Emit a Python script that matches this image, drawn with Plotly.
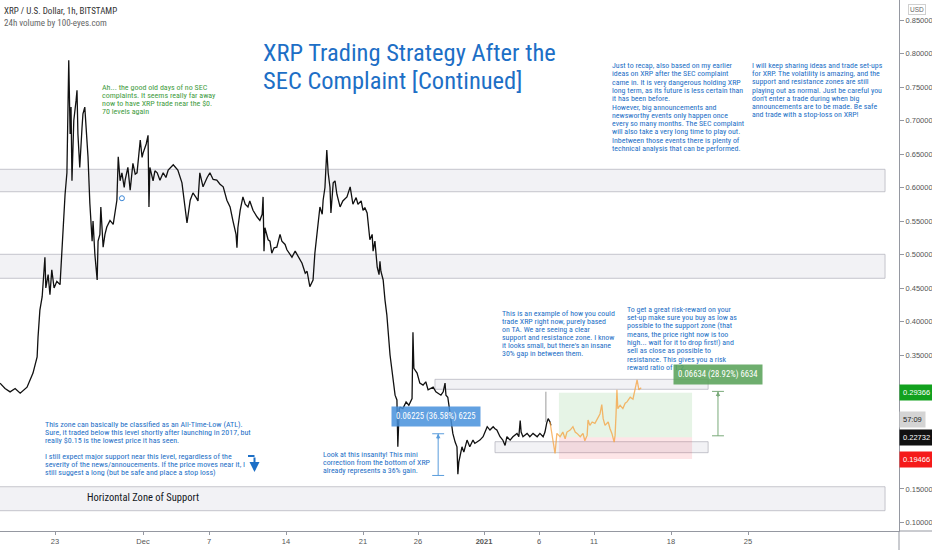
import plotly.graph_objects as go
import pandas as pd

# ---------------- data ----------------
price_time = [
    "2020-11-18 00:00", "2020-11-18 11:00", "2020-11-18 22:00", "2020-11-19 09:00", "2020-11-19 20:00",
    "2020-11-20 11:00", "2020-11-21 00:00", "2020-11-21 09:00", "2020-11-21 11:00", "2020-11-21 15:00",
    "2020-11-21 20:00", "2020-11-22 00:00", "2020-11-22 02:00", "2020-11-22 04:00", "2020-11-22 09:00",
    "2020-11-22 13:00", "2020-11-22 17:00", "2020-11-22 22:00", "2020-11-23 04:00", "2020-11-23 11:00",
    "2020-11-23 15:00", "2020-11-23 18:00", "2020-11-23 22:00", "2020-11-24 02:00", "2020-11-24 04:00",
    "2020-11-24 06:00", "2020-11-24 09:00", "2020-11-24 11:00", "2020-11-24 13:00", "2020-11-24 17:00",
    "2020-11-24 22:00", "2020-11-25 00:00", "2020-11-25 02:00", "2020-11-25 06:00", "2020-11-25 11:00",
    "2020-11-25 13:00", "2020-11-25 17:00", "2020-11-25 20:00", "2020-11-26 00:00", "2020-11-26 04:00",
    "2020-11-26 09:00", "2020-11-26 11:00", "2020-11-26 15:00", "2020-11-26 20:00", "2020-11-26 22:00",
    "2020-11-27 02:00", "2020-11-27 04:00", "2020-11-27 09:00", "2020-11-27 13:00", "2020-11-27 17:00",
    "2020-11-28 00:00", "2020-11-28 07:00", "2020-11-28 11:00", "2020-11-28 15:00", "2020-11-28 18:00",
    "2020-11-28 22:00", "2020-11-29 02:00", "2020-11-29 07:00", "2020-11-29 09:00", "2020-11-29 15:00",
    "2020-11-29 20:00", "2020-11-30 02:00", "2020-11-30 07:00", "2020-11-30 11:00", "2020-11-30 18:00",
    "2020-11-30 22:00", "2020-12-01 00:00", "2020-12-01 07:00", "2020-12-01 11:00", "2020-12-01 13:00",
    "2020-12-01 15:00", "2020-12-01 22:00", "2020-12-02 02:00", "2020-12-02 07:00", "2020-12-02 13:00",
    "2020-12-02 20:00", "2020-12-03 02:00", "2020-12-03 07:00", "2020-12-03 18:00", "2020-12-04 04:00",
    "2020-12-04 13:00", "2020-12-04 20:00", "2020-12-05 00:00", "2020-12-05 07:00", "2020-12-05 13:00",
    "2020-12-05 20:00", "2020-12-06 00:00", "2020-12-06 04:00", "2020-12-06 11:00", "2020-12-06 20:00",
    "2020-12-07 02:00", "2020-12-07 09:00", "2020-12-07 17:00", "2020-12-08 00:00", "2020-12-08 07:00",
    "2020-12-08 15:00", "2020-12-08 22:00", "2020-12-09 04:00", "2020-12-09 11:00", "2020-12-09 13:00",
    "2020-12-09 15:00", "2020-12-09 20:00", "2020-12-10 02:00", "2020-12-10 07:00", "2020-12-10 13:00",
    "2020-12-10 17:00", "2020-12-11 00:00", "2020-12-11 09:00", "2020-12-11 15:00", "2020-12-11 20:00",
    "2020-12-11 22:00", "2020-12-12 00:00", "2020-12-12 02:00", "2020-12-12 09:00", "2020-12-12 13:00",
    "2020-12-12 17:00", "2020-12-12 22:00", "2020-12-13 04:00", "2020-12-13 11:00", "2020-12-13 15:00",
    "2020-12-13 22:00", "2020-12-14 02:00", "2020-12-14 09:00", "2020-12-14 13:00", "2020-12-14 20:00",
    "2020-12-15 00:00", "2020-12-15 07:00", "2020-12-15 11:00", "2020-12-15 18:00", "2020-12-15 22:00",
    "2020-12-16 04:00", "2020-12-16 09:00", "2020-12-16 11:00", "2020-12-16 15:00", "2020-12-16 20:00",
    "2020-12-17 02:00", "2020-12-17 07:00", "2020-12-17 09:00", "2020-12-17 13:00", "2020-12-17 17:00",
    "2020-12-17 20:00", "2020-12-18 00:00", "2020-12-18 02:00", "2020-12-18 07:00", "2020-12-18 11:00",
    "2020-12-18 15:00", "2020-12-18 22:00", "2020-12-19 04:00", "2020-12-19 13:00", "2020-12-19 20:00",
    "2020-12-20 02:00", "2020-12-20 09:00", "2020-12-20 13:00", "2020-12-20 20:00", "2020-12-21 00:00",
    "2020-12-21 04:00", "2020-12-21 09:00", "2020-12-21 15:00", "2020-12-21 20:00", "2020-12-21 22:00",
    "2020-12-22 02:00", "2020-12-22 07:00", "2020-12-22 11:00", "2020-12-22 13:00", "2020-12-22 15:00",
    "2020-12-22 20:00", "2020-12-23 00:00", "2020-12-23 04:00", "2020-12-23 11:00", "2020-12-23 17:00",
    "2020-12-23 22:00", "2020-12-24 02:00", "2020-12-24 04:00", "2020-12-24 07:00", "2020-12-24 09:00",
    "2020-12-24 15:00", "2020-12-24 22:00", "2020-12-25 04:00", "2020-12-25 11:00", "2020-12-25 13:00",
    "2020-12-25 15:00", "2020-12-25 22:00", "2020-12-26 04:00", "2020-12-26 11:00", "2020-12-26 17:00",
    "2020-12-26 22:00", "2020-12-27 04:00", "2020-12-27 09:00", "2020-12-27 15:00", "2020-12-27 20:00",
    "2020-12-28 02:00", "2020-12-28 07:00", "2020-12-28 11:00", "2020-12-28 13:00", "2020-12-28 17:00",
    "2020-12-28 22:00", "2020-12-29 02:00", "2020-12-29 04:00", "2020-12-29 09:00", "2020-12-29 13:00",
    "2020-12-29 15:00", "2020-12-29 17:00", "2020-12-29 20:00", "2020-12-30 00:00", "2020-12-30 04:00",
    "2020-12-30 11:00", "2020-12-30 17:00", "2020-12-31 00:00", "2020-12-31 04:00", "2020-12-31 09:00",
    "2020-12-31 15:00", "2020-12-31 22:00", "2021-01-01 02:00", "2021-01-01 07:00", "2021-01-01 13:00",
    "2021-01-01 20:00", "2021-01-02 00:00", "2021-01-02 04:00", "2021-01-02 11:00", "2021-01-02 17:00",
    "2021-01-02 22:00", "2021-01-03 02:00", "2021-01-03 09:00", "2021-01-03 15:00", "2021-01-04 00:00",
    "2021-01-04 04:00", "2021-01-04 07:00", "2021-01-04 09:00", "2021-01-04 13:00", "2021-01-04 22:00",
    "2021-01-05 04:00", "2021-01-05 11:00", "2021-01-05 20:00", "2021-01-06 02:00", "2021-01-06 09:00",
    "2021-01-06 13:00", "2021-01-06 17:00", "2021-01-06 20:00", "2021-01-07 00:00", "2021-01-07 02:00",
]
price_value = [
    0.308, 0.300, 0.295, 0.300, 0.293,
    0.302, 0.323, 0.347, 0.377, 0.417,
    0.437, 0.480, 0.496, 0.450, 0.470,
    0.440, 0.477, 0.450, 0.460, 0.455,
    0.511, 0.551, 0.590, 0.622, 0.750,
    0.790, 0.680, 0.720, 0.610, 0.700,
    0.730, 0.745, 0.680, 0.630, 0.690,
    0.710, 0.720, 0.690, 0.646, 0.577,
    0.520, 0.550, 0.500, 0.462, 0.520,
    0.530, 0.571, 0.511, 0.530, 0.541,
    0.551, 0.545, 0.562, 0.581, 0.646,
    0.610, 0.622, 0.600, 0.611, 0.630,
    0.596, 0.636, 0.620, 0.622, 0.671,
    0.645, 0.651, 0.665, 0.678, 0.571,
    0.630, 0.610, 0.625, 0.622, 0.611,
    0.622, 0.615, 0.626, 0.634, 0.626,
    0.607, 0.571, 0.547, 0.581, 0.592,
    0.585, 0.580, 0.622, 0.601, 0.615,
    0.622, 0.612, 0.611, 0.605, 0.601,
    0.581, 0.571, 0.551, 0.530, 0.510,
    0.540, 0.566, 0.586, 0.575, 0.571,
    0.580, 0.566, 0.556, 0.551, 0.560,
    0.586, 0.505, 0.540, 0.522, 0.520,
    0.502, 0.510, 0.511, 0.530, 0.520,
    0.515, 0.507, 0.500, 0.496, 0.505,
    0.500, 0.490, 0.487, 0.472, 0.475,
    0.452, 0.460, 0.462, 0.502, 0.532,
    0.571, 0.560, 0.581, 0.600, 0.656,
    0.622, 0.600, 0.562, 0.607, 0.610,
    0.590, 0.571, 0.580, 0.586, 0.601,
    0.575, 0.585, 0.575, 0.580, 0.566,
    0.570, 0.562, 0.522, 0.530, 0.505,
    0.520, 0.481, 0.470, 0.490, 0.475,
    0.462, 0.432, 0.410, 0.350, 0.320,
    0.290, 0.283, 0.213, 0.270, 0.272,
    0.270, 0.280, 0.275, 0.285, 0.384,
    0.330, 0.323, 0.308, 0.305, 0.310,
    0.298, 0.300, 0.302, 0.295, 0.293,
    0.290, 0.295, 0.308, 0.290, 0.287,
    0.263, 0.245, 0.233, 0.220, 0.213,
    0.172, 0.190, 0.200, 0.213, 0.205,
    0.223, 0.213, 0.223, 0.218, 0.220,
    0.223, 0.228, 0.235, 0.243, 0.238,
    0.243, 0.240, 0.238, 0.228, 0.223,
    0.215, 0.228, 0.223, 0.228, 0.233,
    0.228, 0.252, 0.235, 0.228, 0.233,
    0.228, 0.233, 0.228, 0.233, 0.228,
    0.235, 0.249, 0.255, 0.250, 0.245,
]

# projected (bars pattern) path drawn in orange
proj_time = [
    "2021-01-07 00:00", "2021-01-07 04:00", "2021-01-07 09:00", "2021-01-07 11:00", "2021-01-07 15:00",
    "2021-01-07 22:00", "2021-01-08 04:00", "2021-01-08 09:00", "2021-01-08 13:00", "2021-01-08 20:00",
    "2021-01-09 02:00", "2021-01-09 07:00", "2021-01-09 11:00", "2021-01-09 18:00", "2021-01-10 00:00",
    "2021-01-10 04:00", "2021-01-10 09:00", "2021-01-10 11:00", "2021-01-10 15:00", "2021-01-10 20:00",
    "2021-01-11 02:00", "2021-01-11 09:00", "2021-01-11 13:00", "2021-01-11 17:00", "2021-01-11 20:00",
    "2021-01-12 00:00", "2021-01-12 07:00", "2021-01-12 11:00", "2021-01-12 15:00", "2021-01-12 20:00",
    "2021-01-12 22:00", "2021-01-13 00:00", "2021-01-13 02:00", "2021-01-13 04:00", "2021-01-13 09:00",
    "2021-01-13 15:00", "2021-01-13 20:00", "2021-01-14 00:00", "2021-01-14 07:00", "2021-01-14 13:00",
    "2021-01-14 17:00", "2021-01-14 22:00", "2021-01-15 02:00", "2021-01-15 07:00",
]
proj_value = [
    0.250, 0.235, 0.215, 0.203, 0.233,
    0.228, 0.235, 0.225, 0.235, 0.238,
    0.243, 0.235, 0.233, 0.228, 0.233,
    0.222, 0.230, 0.253, 0.245, 0.250,
    0.248, 0.258, 0.262, 0.276, 0.255,
    0.245, 0.250, 0.240, 0.233, 0.220,
    0.230, 0.260, 0.298, 0.270, 0.275,
    0.270, 0.278, 0.280, 0.287, 0.284,
    0.295, 0.313, 0.298, 0.301,
]

# horizontal zones [top, bottom]
zone_upper = [0.6272, 0.5937]
zone_middle = [0.5003, 0.4645]
zone_support = [0.1534, 0.1176]
zone_start = "2020-11-10"
zone_end = "2021-02-06 11:00"

# small trade boxes
trade_res_box = [0.3137, 0.2988]
trade_sup_box = [0.2206, 0.2042]
trade_res_start = "2020-12-27 13:00"
trade_sup_start = "2021-01-02 00:00"
trade_box_end = "2021-01-21 09:00"

# long position tool
pos_target = 0.29366
pos_entry = 0.22732
pos_stop = 0.19466
pos_start = "2021-01-07 19:30"
pos_end = "2021-01-19 22:00"

# measure tools
measure1_time = "2020-12-27 20:00"
measure1_range = [0.1702, 0.23245]
measure1_text = "0.06225 (36.58%) 6225"
measure1_label = ["2020-12-27 16:00", 0.2582]
measure2_time = "2021-01-22 06:30"
measure2_range = [0.2294, 0.2957]
measure2_text = "0.06634 (28.92%) 6634"
measure2_label = ["2021-01-22 07:30", 0.3209]

gray_line_time = "2021-01-06 15:00"
gray_line_range = [0.2497, 0.2952]

marker_time = ["2020-11-29 02:00"]
marker_value = [0.584]

countdown_value = 0.2535
countdown_text = "57:09"

x_tick_vals = ["2020-11-23", "2020-12-01", "2020-12-07", "2020-12-14", "2020-12-21", "2020-12-26",
               "2021-01-01", "2021-01-06", "2021-01-11", "2021-01-18", "2021-01-25"]
x_tick_text = ["23", "Dec", "7", "14", "21", "26", "<b>2021</b>", "6", "11", "18", "25"]
y_tick_vals = [0.10, 0.15, 0.20, 0.25, 0.30, 0.35, 0.40, 0.45, 0.50, 0.55, 0.60, 0.65, 0.70, 0.75, 0.80, 0.85]
y_tick_hidden = [0.20, 0.25, 0.30]  # covered by price tags in the reference

x_range = ["2020-11-18 00:00", "2021-02-07 17:27"]
y_range = [0.0873, 0.8799]

title_lines = ["XRP Trading Strategy After the", "SEC Complaint [Continued]"]
green_lines = ["Ah... the good old days of no SEC", "complaints. It seems really far away",
               "now to have XRP trade near the $0.", "70 levels again"]
recap_lines = ["Just to recap, also based on my earlier", "ideas on XRP after the SEC complaint",
               "came in. It is very dangerous holding XRP", "long term, as its future is less certain than",
               "it has been before.", "However, big announcements and", "newsworthy events only happen once",
               "every so many months. The SEC complaint", "will also take a very long time to play out.",
               "Inbetween those events there is plenty of", "technical analysis that can be performed."]
sharing_lines = ["I will keep sharing ideas and trade set-ups", "for XRP. The volatility is amazing, and the",
                 "support and resistance zones are still", "playing out as normal. Just be careful you",
                 "don't enter a trade during when big", "announcements are to be made. Be safe",
                 "and trade with a stop-loss on XRP!"]
example_lines = ["This is an example of how you could", "trade XRP right now, purely based",
                 "on TA. We are seeing a clear", "support and resistance zone. I know",
                 "it looks small, but there's an insane", "30% gap in between them."]
risk_lines = ["To get a great risk-reward on your", "set-up make sure you buy as low as",
              "possible to the support zone (that", "means, the price right now is too",
              "high... wait for it to drop first!) and", "sell as close as possible to",
              "resistance. This gives you a risk", "reward ratio of 1:2."]
atl_lines = ["This zone can basically be classified as an All-Time-Low (ATL).",
             "Sure, it traded below this level shortly after launching in 2017, but",
             "really $0.15 is the lowest price it has seen.", "",
             "I still expect major support near this level, regardless of the",
             "severity of the news/annoucements. If the price moves near it, I",
             "still suggest a long (but be safe and place a stop loss)"]
insanity_lines = ["Look at this insanity! This mini", "correction from the bottom of XRP",
                  "already represents a 36% gain."]
support_label = "Horizontal Zone of Support"
header_line1 = "XRP / U.S. Dollar, 1h, BITSTAMP"
header_line2 = "24h volume by 100-eyes.com"

# ---------------- layout helpers ----------------
W, H = 932, 550
MR, MB = 33, 19
PW, PH = W - MR, H - MB


def px(x):
    return x / PW


def py(y):
    return 1 - y / PH


NARROW = "Liberation Sans Narrow, Arial Narrow, Roboto Condensed, Liberation Sans, sans-serif"
REG = "Liberation Sans, Arial, sans-serif"
BLUE = "#1d6fc6"
GREEN_TXT = "#3f9c42"

annotations = []
shapes = []


def text_block(lines, x0, y0, dy, size, color, family=NARROW):
    for i, line in enumerate(lines):
        if not line:
            continue
        annotations.append(dict(xref="paper", yref="paper", x=px(x0 - 2), y=py(y0 + i * dy),
                                text=line, showarrow=False, xanchor="left", yanchor="middle",
                                font=dict(size=size, color=color, family=family)))


text_block(title_lines, 262.7, 52.5, 28.3, 24.5, BLUE)
text_block(green_lines, 101.7, 87.7, 8.0, 8, GREEN_TXT)
text_block(recap_lines, 611.7, 65.7, 8.26, 7.9, BLUE)
text_block(sharing_lines, 752.3, 65.7, 8.1, 7.9, BLUE)
text_block(example_lines, 502.3, 313.3, 8.0, 7.9, BLUE)
text_block(risk_lines, 626.7, 309.3, 8.33, 7.9, BLUE)
text_block(atl_lines, 45, 424, 8.1, 8.0, BLUE)
text_block(insanity_lines, 322.7, 454.3, 8.1, 7.9, BLUE)
text_block([header_line1], 4, 11, 0, 9.0, "#333333")
text_block([header_line2], 4, 23.3, 0, 9.0, "#666666")

annotations.append(dict(xref="paper", yref="paper", x=px(143), y=py(497), text=support_label,
                        showarrow=False, xanchor="center", yanchor="middle",
                        font=dict(size=10.5, color="#131722", family=NARROW)))

# zones
zone_style = dict(fillcolor="rgba(238,238,241,0.75)", line=dict(color="rgba(175,175,185,0.7)", width=1),
                  layer="below", xref="x", yref="y")
for z in (zone_upper, zone_middle, zone_support):
    shapes.append(dict(type="rect", x0=zone_start, x1=zone_end, y0=z[1], y1=z[0], **zone_style))
shapes.append(dict(type="rect", x0=trade_res_start, x1=trade_box_end, y0=trade_res_box[1], y1=trade_res_box[0], **zone_style))
shapes.append(dict(type="rect", x0=trade_sup_start, x1=trade_box_end, y0=trade_sup_box[1], y1=trade_sup_box[0], **zone_style))

# long position
shapes.append(dict(type="rect", xref="x", yref="y", x0=pos_start, x1=pos_end, y0=pos_entry, y1=pos_target,
                   fillcolor="rgba(76,175,80,0.14)", line=dict(width=0), layer="below"))
shapes.append(dict(type="rect", xref="x", yref="y", x0=pos_start, x1=pos_end, y0=pos_stop, y1=pos_entry,
                   fillcolor="rgba(242,54,69,0.13)", line=dict(width=0), layer="below"))

# gray vertical line
shapes.append(dict(type="line", xref="x", yref="y", x0=gray_line_time, x1=gray_line_time,
                   y0=gray_line_range[0], y1=gray_line_range[1], line=dict(color="#9a9a9a", width=1)))


def measure(t, rng, color, label_pos, label_text, bg):
    cap = pd.Timedelta(hours=13)
    tt = pd.Timestamp(t)
    shapes.append(dict(type="line", xref="x", yref="y", x0=t, x1=t, y0=rng[0], y1=rng[1],
                       line=dict(color=color, width=1)))
    for v in rng:
        shapes.append(dict(type="line", xref="x", yref="y", x0=tt - cap, x1=tt + cap, y0=v, y1=v,
                           line=dict(color=color, width=1)))
    annotations.append(dict(xref="x", yref="y", x=t, y=rng[1], ax=0, ay=7, text="", showarrow=True,
                            arrowhead=2, arrowsize=0.9, arrowwidth=1, arrowcolor=color))
    annotations.append(dict(xref="x", yref="y", x=label_pos[0], y=label_pos[1], text=label_text,
                            showarrow=False, bgcolor=bg, borderpad=4,
                            font=dict(size=8.7, color="white", family=NARROW)))


measure(measure1_time, measure1_range, "#5a9ddc", measure1_label, measure1_text, "rgba(70,145,220,0.85)")
measure(measure2_time, measure2_range, "#7aaa7a", measure2_label, measure2_text, "rgba(85,160,85,0.85)")

# bent blue arrow near ATL text
shapes.append(dict(type="line", xref="paper", yref="paper", x0=px(248), x1=px(254.5), y0=py(456), y1=py(456),
                   line=dict(color=BLUE, width=2)))
annotations.append(dict(xref="paper", yref="paper", x=px(254.5), y=py(472), ax=0, ay=-16, text="",
                        showarrow=True, arrowhead=2, arrowsize=1, arrowwidth=2, arrowcolor=BLUE))

# price-axis tags
for val, bg, fg, txt in [(pos_target, "#12a11e", "white", f"{pos_target:.5f}"),
                         (countdown_value, "#d4d4d4", "#222222", countdown_text),
                         (pos_entry, "#111111", "white", f"{pos_entry:.5f}"),
                         (pos_stop, "#f51a1a", "white", f"{pos_stop:.5f}")]:
    annotations.append(dict(xref="paper", yref="y", x=1, y=val, xanchor="left", yanchor="middle",
                            text=txt, showarrow=False, bgcolor=bg, borderpad=3,
                            font=dict(size=7.5, color=fg, family=REG)))
annotations.append(dict(xref="paper", yref="paper", x=px(916.5), y=py(9.5), text="USD", showarrow=False,
                        xanchor="center", yanchor="middle", bordercolor="#d0d0d0", borderwidth=1, borderpad=1,
                        font=dict(size=6.5, color="#666666", family=REG)))

# axis extensions (cross at bottom-right)
shapes.append(dict(type="line", xref="paper", yref="paper", x0=1, x1=W / PW, y0=0, y1=0,
                   line=dict(color="#9598a1", width=1)))
shapes.append(dict(type="line", xref="paper", yref="paper", x0=1, x1=1, y0=0, y1=-MB / PH,
                   line=dict(color="#9598a1", width=1)))

# ---------------- figure ----------------
fig = go.Figure()
fig.add_trace(go.Scatter(x=price_time, y=price_value, mode="lines",
                         line=dict(color="#111111", width=1.3), hoverinfo="skip"))
fig.add_trace(go.Scatter(x=proj_time, y=proj_value, mode="lines",
                         line=dict(color="rgba(245,160,60,0.75)", width=1.3), hoverinfo="skip"))
fig.add_trace(go.Scatter(x=marker_time, y=marker_value, mode="markers",
                         marker=dict(symbol="circle-open", size=5, color="#3a86d6", line=dict(width=1)),
                         hoverinfo="skip"))

y_text = ["" if any(abs(v - h) < 1e-9 for h in y_tick_hidden) else f"{v:.5f}" for v in y_tick_vals]

fig.update_layout(
    width=W, height=H, margin=dict(l=0, r=MR, t=0, b=MB),
    paper_bgcolor="white", plot_bgcolor="white", showlegend=False,
    annotations=annotations, shapes=shapes, hovermode=False,
    xaxis=dict(type="date", range=x_range, tickvals=x_tick_vals, ticktext=x_tick_text,
               showgrid=False, zeroline=False, showline=True, linecolor="#9598a1", linewidth=1,
               ticks="outside", ticklen=3, tickcolor="#9598a1",
               tickfont=dict(size=7.5, color="#555555", family=REG), fixedrange=True),
    yaxis=dict(side="right", range=y_range, tickvals=y_tick_vals, ticktext=y_text,
               showgrid=False, zeroline=False, showline=True, linecolor="#9598a1", linewidth=1,
               ticks="outside", ticklen=4, tickcolor="#9598a1",
               tickfont=dict(size=7.5, color="#555555", family=REG), fixedrange=True),
)

fig.write_html("out.html", config={"displayModeBar": False},
               post_script="document.body.style.margin='0';document.body.style.overflow='hidden';")
